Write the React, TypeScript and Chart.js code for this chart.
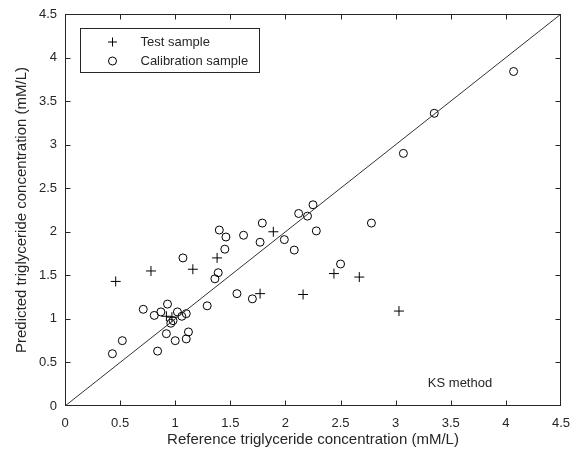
import React, { useEffect, useRef } from "react";
import { Chart, registerables } from "chart.js";
Chart.register(...registerables);

const tickValues = [0, 0.5, 1, 1.5, 2, 2.5, 3, 3.5, 4, 4.5];

const testX = [0.46, 0.78, 1.16, 1.38, 1.77, 1.89, 2.16, 2.44, 2.67, 3.03, 0.92, 0.97];
const testY = [1.43, 1.55, 1.57, 1.70, 1.29, 2.00, 1.28, 1.52, 1.48, 1.09, 1.03, 1.02];

const calX = [0.43, 0.52, 0.71, 0.81, 0.87, 0.93, 0.84, 0.92, 1.00, 1.10, 1.12, 1.02, 1.10, 1.06, 0.98, 0.96,
  1.07, 1.29, 1.36, 1.39, 1.40, 1.46, 1.45, 1.56, 1.62, 1.70, 1.79, 1.77, 1.99, 2.08, 2.12, 2.20, 2.25, 2.28,
  2.50, 2.78, 3.07, 3.35, 4.07];
const calY = [0.60, 0.75, 1.11, 1.04, 1.08, 1.17, 0.63, 0.83, 0.75, 0.77, 0.85, 1.08, 1.06, 1.03, 0.98, 0.95,
  1.70, 1.15, 1.46, 1.53, 2.02, 1.94, 1.80, 1.29, 1.96, 1.23, 2.10, 1.88, 1.91, 1.79, 2.21, 2.18, 2.31, 2.01,
  1.63, 2.10, 2.90, 3.36, 3.84];

const diagX = [0, 4.5];
const diagY = [0, 4.5];

const FONT = "'Liberation Sans', Arial, sans-serif";
const INK = "#262626";

export default function App() {
  const ref = useRef<HTMLCanvasElement>(null);
  useEffect(() => {
    if (!ref.current) return;
    const framePlugin = {
      id: "frame",
      afterDraw(chart: any) {
        const { ctx, chartArea: a, scales } = chart;
        const xs = scales.x;
        const ys = scales.y;
        ctx.save();
        ctx.strokeStyle = INK;
        ctx.lineWidth = 1;
        const L = Math.round(a.left) + 0.5;
        const R = Math.round(a.right) - 0.5;
        const T = Math.round(a.top) + 0.5;
        const B = Math.round(a.bottom) - 0.5;
        ctx.strokeRect(L, T, R - L, B - T);
        const tl = 5;
        const clamp = (v: number, lo: number, hi: number) => Math.min(hi, Math.max(lo, v));
        ctx.beginPath();
        tickValues.forEach((v) => {
          const px = clamp(Math.round(xs.getPixelForValue(v)) + 0.5, L, R);
          ctx.moveTo(px, B); ctx.lineTo(px, B - tl);
          ctx.moveTo(px, T); ctx.lineTo(px, T + tl);
          const py = clamp(Math.round(ys.getPixelForValue(v)) + 0.5, T, B);
          ctx.moveTo(L, py); ctx.lineTo(L + tl, py);
          ctx.moveTo(R, py); ctx.lineTo(R - tl, py);
        });
        ctx.stroke();

        // legend
        const lx = Math.round(a.left) + 15.5;
        const ly = Math.round(a.top) + 14.5;
        ctx.fillStyle = "#ffffff";
        ctx.fillRect(lx, ly, 179, 44);
        ctx.strokeRect(lx, ly, 179, 44);
        ctx.strokeStyle = "#000";
        const mx = lx + 32;
        const r1 = ly + 13.5;
        const r2 = ly + 32.5;
        ctx.beginPath();
        ctx.moveTo(mx - 4.5, r1); ctx.lineTo(mx + 4.5, r1);
        ctx.moveTo(mx, r1 - 4.5); ctx.lineTo(mx, r1 + 4.5);
        ctx.stroke();
        ctx.beginPath();
        ctx.arc(mx, r2, 4, 0, Math.PI * 2);
        ctx.stroke();
        ctx.fillStyle = INK;
        ctx.font = `13px ${FONT}`;
        ctx.textBaseline = "middle";
        ctx.textAlign = "left";
        ctx.fillText("Test sample", lx + 60, r1);
        ctx.fillText("Calibration sample", lx + 60, r2);

        ctx.textAlign = "center";
        ctx.fillText("KS method", 460, 383);
        ctx.restore();
      },
    };

    const chart = new Chart(ref.current, {
      type: "scatter",
      data: {
        datasets: [
          {
            label: "Diagonal",
            data: diagX.map((x, i) => ({ x, y: diagY[i] })),
            showLine: true,
            pointRadius: 0,
            borderColor: "#333",
            borderWidth: 1,
          },
          {
            label: "Test sample",
            data: testX.map((x, i) => ({ x, y: testY[i] })),
            pointStyle: "cross",
            pointRadius: 5,
            borderColor: "#000",
            backgroundColor: "#000",
            borderWidth: 1,
          },
          {
            label: "Calibration sample",
            data: calX.map((x, i) => ({ x, y: calY[i] })),
            pointStyle: "circle",
            pointRadius: 4,
            borderColor: "#000",
            backgroundColor: "rgba(0,0,0,0)",
            borderWidth: 1,
          },
        ],
      },
      options: {
        animation: false,
        responsive: false,
        layout: { padding: { left: 0, top: 14, right: 10, bottom: 0 } },
        plugins: { legend: { display: false }, tooltip: { enabled: false } },
        scales: {
          x: {
            type: "linear",
            min: 0,
            max: 4.5,
            afterBuildTicks: (s: any) => { s.ticks = tickValues.map((v) => ({ value: v })); },
            afterFit: (s: any) => { s.height = 55; s.paddingLeft = 0; s.paddingRight = 0; },
            grid: { display: false, drawTicks: false },
            border: { display: false },
            ticks: { callback: (v: any) => String(v), color: INK, padding: 10, font: { family: FONT, size: 13 }, maxRotation: 0 },
            title: { display: true, text: "Reference triglyceride concentration (mM/L)", color: INK, font: { family: FONT, size: 15 }, padding: { top: 0, bottom: 12 } },
          },
          y: {
            type: "linear",
            min: 0,
            max: 4.5,
            afterBuildTicks: (s: any) => { s.ticks = tickValues.map((v) => ({ value: v })); },
            afterFit: (s: any) => { s.width = 65; s.paddingTop = 0; s.paddingBottom = 0; },
            grid: { display: false, drawTicks: false },
            border: { display: false },
            ticks: { callback: (v: any) => String(v), color: INK, padding: 8, font: { family: FONT, size: 13 } },
            title: { display: true, text: "Predicted triglyceride concentration (mM/L)", color: INK, font: { family: FONT, size: 15 }, padding: { top: 13, bottom: 0 } },
          },
        },
      },
      plugins: [framePlugin],
    });
    return () => chart.destroy();
  }, []);
  return (
    <div style={{ position: "absolute", left: 0, top: 0, width: 571, height: 461, background: "#fff" }}>
      <canvas ref={ref} width={571} height={461} style={{ display: "block" }} />
    </div>
  );
}
